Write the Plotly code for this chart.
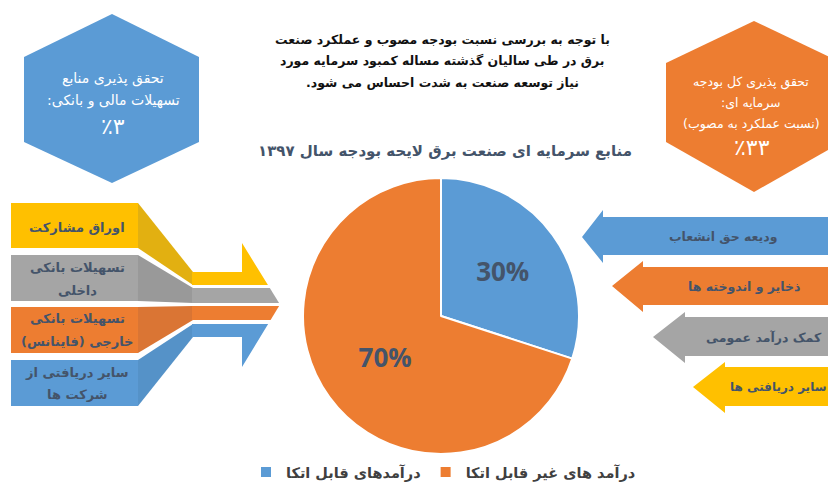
import plotly.graph_objects as go

# the page body has an 8px margin: the figure starts 8px in from the top-left corner
OFF = 8
W, H = 836 - OFF, 488 - OFF
RLM = "\u200f"

# ---- data ----
pie_labels = ["درآمدهای قابل اتکا", "درآمد های غیر قابل اتکا"]
pie_values = [30, 70]
pie_colors = ["#5B9BD5", "#ED7D31"]

chart_title = "منابع سرمایه ای صنعت برق لایحه بودجه سال ۱۳۹۷"
intro_lines = [
    "با توجه به بررسی نسبت بودجه مصوب و عملکرد صنعت",
    "برق در طی سالیان گذشته مساله کمبود سرمایه مورد",
    "نیاز توسعه صنعت به شدت احساس می شود." + RLM,
]
left_kpi_lines = ["تحقق پذیری منابع", "تسهیلات مالی و بانکی:" + RLM]
left_kpi_value = "٪۳"
right_kpi_lines = ["تحقق پذیری کل بودجه", "سرمایه ای:" + RLM, "(نسبت عملکرد به مصوب)"]
right_kpi_value = "٪۳۳"

left_sources = [
    ["اوراق مشارکت"],
    ["تسهیلات بانکی", "داخلی"],
    ["تسهیلات بانکی", "خارجی (فاینانس)"],
    ["سایر دریافتی از", "شرکت ها"],
]
right_sources = ["ودیعه حق انشعاب", "ذخایر و اندوخته ها", "کمک درآمد عمومی", "سایر دریافتی ها"]

# ---- styling ----
BLUE, ORANGE, GRAY, YELLOW = "#5B9BD5", "#ED7D31", "#A5A5A5", "#FFC000"
TXT = "#44546A"
FA = "DejaVu Sans"


def px(x, y):
    return (x - OFF) / W, 1 - (y - OFF) / H


def path(points):
    s = []
    for i, (x, y) in enumerate(points):
        a, b = px(x, y)
        s.append(("M" if i == 0 else "L") + f"{a:.5f},{b:.5f}")
    return " ".join(s) + " Z"


shapes = []


def poly(points, color):
    shapes.append(dict(type="path", xref="paper", yref="paper", path=path(points),
                       fillcolor=color, line=dict(width=0), layer="below"))


annotations = []


def text(x, y, s, size=14, color=TXT, bold=True, family=FA):
    a, b = px(x, y)
    annotations.append(dict(x=a, y=b, xref="paper", yref="paper", text=s, showarrow=False,
                            xanchor="center", yanchor="middle",
                            font=dict(family=family, size=size, color=color,
                                      weight="bold" if bold else "normal")))


# hexagons
poly([(112, 14), (199, 57), (199, 142), (112, 183), (24, 142), (24, 57)], BLUE)
poly([(754, 21), (842, 63), (842, 142), (754, 192), (666, 142), (666, 63)], ORANGE)

# left converging arrow
band_cols = [YELLOW, GRAY, ORANGE, BLUE]
taper_cols = ["#E2B011", "#999999", "#DA7534", "#5592C8"]
rects = [(203, 248), (255, 301), (307, 353), (360, 406)]
shafts = [(272, 285), (288, 303), (306, 320), (324, 337)]
hx, htop, htip_x, htip_y, hbot = 242, 243, 280, 304.5, 367


def edge_x(y):
    if y <= htip_y:
        return hx + (y - htop) / (htip_y - htop) * (htip_x - hx)
    return hx + (hbot - y) / (hbot - htip_y) * (htip_x - hx)


for i in range(4):
    r0, r1 = rects[i]
    s0, s1 = shafts[i]
    poly([(11, r0), (138, r0), (138, r1), (11, r1)], band_cols[i])
    poly([(138, r0), (193, s0), (193, s1), (138, r1)], taper_cols[i])
    if i == 0:
        pts = [(192, s0), (hx, s0), (hx, htop), (edge_x(s1), s1), (192, s1)]
    elif i == 3:
        pts = [(192, s0), (edge_x(s0), s0), (hx, hbot), (hx, s1), (192, s1)]
    else:
        pts = [(192, s0), (edge_x(s0), s0)]
        if s0 < htip_y < s1:
            pts.append((htip_x, htip_y))
        pts += [(edge_x(s1), s1), (192, s1)]
    poly(pts, band_cols[i])

# right arrows
right_geo = [
    # tip_x, tip_y, head_x, head_top, head_bot, shaft_top, shaft_bot
    (582, 237, 603, 210, 263, 217, 255),
    (612, 286, 643, 261, 312, 267, 305),
    (653, 337, 685, 312, 363, 317, 356),
    (693, 387, 725, 362, 413, 367, 406),
]
right_cols = [BLUE, ORANGE, GRAY, YELLOW]
for (tx, ty, hx2, ht, hb, st, sb), c in zip(right_geo, right_cols):
    poly([(tx, ty), (hx2, ht), (hx2, st), (845, st), (845, sb), (hx2, sb), (hx2, hb)], c)

# texts
for y, s in zip([40, 61, 82], intro_lines):
    text(442, y, s, size=12.5, color="#111111", bold=True)
text(445, 151, chart_title, size=15, color=TXT, bold=True)

for y, s in zip([78, 100], left_kpi_lines):
    text(113, y, s, size=14, color="white", bold=False)
text(113, 126, left_kpi_value, size=22, color="white", bold=False)

for y, s in zip([82, 103, 124], right_kpi_lines):
    text(751, y, s, size=12.5, color="white", bold=False)
text(752, 147, right_kpi_value, size=22, color="white", bold=False)

left_text_y = [[227], [267, 290], [318, 341], [372, 394]]
for lines, ys in zip(left_sources, left_text_y):
    for s, y in zip(lines, ys):
        text(77, y, s, size=13)

right_text_pos = [(723, 236), (744, 286), (764, 337), (778, 387)]
right_text_size = [12.5, 12.5, 12.5, 12]
for s, (x, y), fs in zip(right_sources, right_text_pos, right_text_size):
    text(x, y, s, size=fs)

# pie
cx, cy, r = 441, 316, 138
x0, _ = px(cx - r, 0)
x1, _ = px(cx + r, 0)
_, y1 = px(0, cy - r)
_, y0 = px(0, cy + r)

fig = go.Figure()
fig.add_trace(go.Pie(
    labels=pie_labels, values=pie_values, sort=False, direction="clockwise", rotation=0,
    marker=dict(colors=pie_colors, line=dict(color="white", width=2)),
    textinfo="percent", textposition="inside", insidetextorientation="horizontal",
    textfont=dict(family="Open Sans", size=26, color=TXT, weight="bold"),
    domain=dict(x=[x0, x1], y=[y0, y1]), hoverinfo="label+percent",
))

lx, _ = px(246, 0)
fig.update_layout(
    width=W, height=H, margin=dict(l=0, r=0, t=0, b=0),
    paper_bgcolor="white", plot_bgcolor="white",
    shapes=shapes, annotations=annotations,
    showlegend=True,
    legend=dict(orientation="h", x=lx, y=0, xanchor="left", yanchor="bottom",
                font=dict(family=FA, size=14.5, color="#404040", weight="bold"),
                itemsizing="constant", traceorder="normal"),
)
fig.write_html("out.html")
